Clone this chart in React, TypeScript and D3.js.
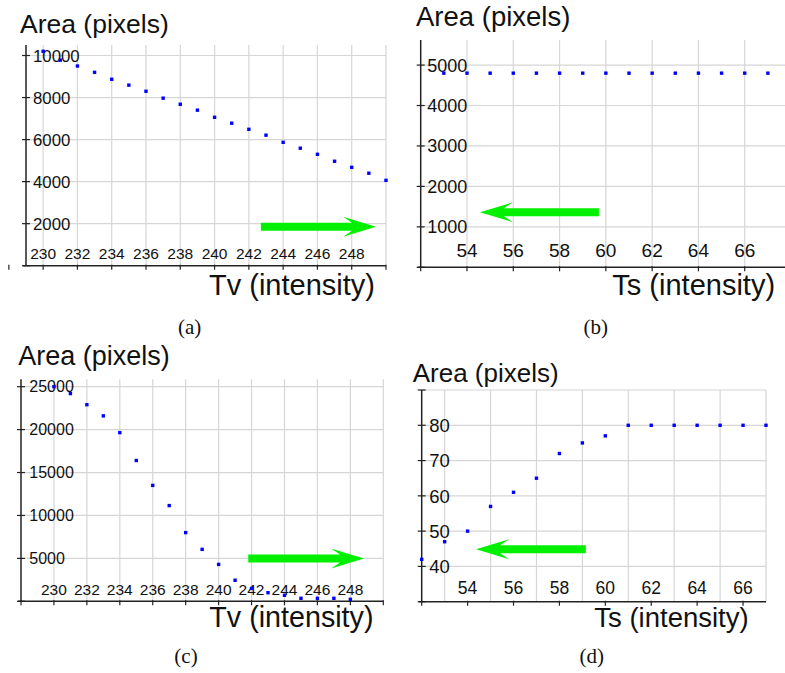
import * as d3 from "d3";
import { useEffect, useRef } from "react";

// Tv sweeps (panels a, c) and Ts sweeps (panels b, d)
const tvValues = d3.range(230, 251);
const areaA = [10200, 9780, 9500, 9200, 8870, 8590, 8300, 7970, 7680, 7400, 7060, 6780, 6490, 6210, 5870, 5590, 5300, 4970, 4680, 4400, 4060];

const tsValuesB = d3.range(53, 68);
const areaB = [4800, 4800, 4800, 4800, 4800, 4800, 4800, 4800, 4800, 4800, 4800, 4800, 4800, 4800, 4800];

const tvValuesC = d3.range(230, 249);
const areaC = [25000, 24200, 22900, 21600, 19650, 16400, 13500, 11150, 8000, 6050, 4300, 2450, 1500, 1000, 700, 350, 350, 350, 230];

const tsValuesD = d3.range(52, 68);
const areaD = [42, 47, 50, 57, 61, 65, 72, 75, 77, 80, 80, 80, 80, 80, 80, 80];

// tick label lists
const tvLabels = d3.range(230, 249, 2);
const tsLabels = d3.range(54, 67, 2);
const yLabelsA = [2000, 4000, 6000, 8000, 10000];
const yLabelsB = [1000, 2000, 3000, 4000, 5000];
const yLabelsC = [5000, 10000, 15000, 20000, 25000];
const yLabelsD = [40, 50, 60, 70, 80];

// arrow annotations, data units: [x tail, x tip, y]
const arrowA = [242.7, 249.42, 1857];
const arrowB = [59.7, 54.56, 1361];
const arrowC = [241.8, 248.83, 5000];
const arrowD = [59.15, 54.37, 44.84];

const panels = [
  {
    xs: tvValues, ys: areaA, xDom: [229, 250], xRange: [26, 386], yDom: [0, 10500], yRange: [265.7, 45],
    xTicks: d3.range(228, 251, 2), xGrid: d3.range(230, 251, 2), xLabels: tvLabels,
    yTicks: [0, ...yLabelsA], yGrid: yLabelsA, yLabels: yLabelsA,
    xFont: 15.5, yFont: 16.8, yLabDx: 7, xLabDy: 6.5,
    title: { x: 20, y: 33, size: 26.5 }, xTitle: { text: "Tv (intensity)", x: 209, y: 295, size: 29 },
    caption: { text: "(a)", x: 189.7, y: 334 }, arrow: arrowA,
  },
  {
    xs: tsValuesB, ys: areaB, xDom: [52, 67.74], xRange: [420.7, 785], yDom: [0, 5620], yRange: [267.3, 40],
    xTicks: d3.range(52, 68, 2), xGrid: d3.range(54, 67, 2), xLabels: tsLabels,
    yTicks: [0, ...yLabelsB], yGrid: yLabelsB, yLabels: yLabelsB,
    xFont: 19, yFont: 18, yLabDx: 6.6, xLabDy: 10.5,
    title: { x: 416, y: 26, size: 27.5 }, xTitle: { text: "Ts (intensity)", x: 612.3, y: 295, size: 29 },
    caption: { text: "(b)", x: 595.8, y: 334 }, arrow: arrowB,
  },
  {
    xs: tvValuesC, ys: areaC, xDom: [228, 250], xRange: [21, 383.3], yDom: [0, 25860], yRange: [601.3, 379.3],
    xTicks: d3.range(228, 251, 2), xGrid: d3.range(230, 251, 2), xLabels: tvLabels,
    yTicks: [0, ...yLabelsC], yGrid: yLabelsC, yLabels: yLabelsC,
    xFont: 15.5, yFont: 16, yLabDx: 8.3, xLabDy: 6.5,
    title: { x: 18.3, y: 365, size: 27 }, xTitle: { text: "Tv (intensity)", x: 209.3, y: 627.3, size: 28.7 },
    caption: { text: "(c)", x: 186, y: 663 }, arrow: arrowC,
  },
  {
    xs: tsValuesD, ys: areaD, xDom: [52, 67], xRange: [421.7, 766], yDom: [30, 90], yRange: [601.7, 390],
    xTicks: d3.range(52, 67, 2), xGrid: d3.range(53, 68, 2), xLabels: tsLabels,
    yTicks: [30, ...yLabelsD, 90], yGrid: [...yLabelsD, 90], yLabels: yLabelsD,
    xFont: 17.5, yFont: 18.5, yLabDx: 7.6, xLabDy: 7.5,
    title: { x: 412.7, y: 381.7, size: 26 }, xTitle: { text: "Ts (intensity)", x: 594.3, y: 627, size: 27.5 },
    caption: { text: "(d)", x: 591.7, y: 663 }, arrow: arrowD,
  },
];

const draw = (el) => {
  const svg = d3.select(el);
  svg.selectAll("*").remove();
  const font = "Liberation Sans, Arial, sans-serif";

  panels.forEach((p) => {
    const g = svg.append("g");
    const x = d3.scaleLinear().domain(p.xDom).range(p.xRange);
    const y = d3.scaleLinear().domain(p.yDom).range(p.yRange);
    const x0 = p.xRange[0], x1 = p.xRange[1];
    const y0 = p.yRange[0], y1 = p.yRange[1];

    // grid
    g.selectAll(".vg").data(p.xGrid).join("line")
      .attr("x1", d => x(d)).attr("x2", d => x(d)).attr("y1", y1).attr("y2", y0)
      .attr("stroke", "#d6d6d6").attr("stroke-width", 1.2);
    g.selectAll(".hg").data(p.yGrid).join("line")
      .attr("x1", x0).attr("x2", x1).attr("y1", d => y(d)).attr("y2", d => y(d))
      .attr("stroke", "#d6d6d6").attr("stroke-width", 1.2);

    // axes
    g.append("line").attr("x1", x0).attr("x2", x0).attr("y1", y1).attr("y2", y0)
      .attr("stroke", "#222").attr("stroke-width", 1.5);
    g.append("line").attr("x1", x0 - 3).attr("x2", x1).attr("y1", y0).attr("y2", y0)
      .attr("stroke", "#222").attr("stroke-width", 1.5);
    g.selectAll(".yt").data(p.yTicks).join("line")
      .attr("x1", x0 - 4).attr("x2", x0 + 4).attr("y1", d => y(d)).attr("y2", d => y(d))
      .attr("stroke", "#222").attr("stroke-width", 1.2);
    g.selectAll(".xt").data(p.xTicks).join("line")
      .attr("x1", d => x(d)).attr("x2", d => x(d)).attr("y1", y0 - 1).attr("y2", y0 + 4)
      .attr("stroke", "#222").attr("stroke-width", 1.2);

    // tick labels
    g.selectAll(".yl").data(p.yLabels).join("text")
      .attr("x", x0 + p.yLabDx).attr("y", d => y(d)).attr("dy", "0.36em")
      .attr("font-family", font).attr("font-size", p.yFont).attr("fill", "#111")
      .text(d => d);
    g.selectAll(".xl").data(p.xLabels).join("text")
      .attr("x", d => x(d)).attr("y", y0 - p.xLabDy).attr("text-anchor", "middle")
      .attr("font-family", font).attr("font-size", p.xFont).attr("fill", "#111")
      .text(d => d);

    // arrow
    const [ax0, ax1, ay] = p.arrow;
    const tx = x(ax0), hx = x(ax1), cy = y(ay);
    const dir = hx > tx ? 1 : -1;
    const headLen = 33, headHalf = 10, shaftHalf = 4, notch = 9;
    const bx = hx - dir * headLen;
    const pts = [
      [tx, cy - shaftHalf], [bx + dir * notch, cy - shaftHalf], [bx, cy - headHalf], [hx, cy],
      [bx, cy + headHalf], [bx + dir * notch, cy + shaftHalf], [tx, cy + shaftHalf],
    ];
    g.append("polygon").attr("points", pts.map(q => q.join(",")).join(" ")).attr("fill", "#00f000");

    // points
    const pts2 = p.xs.map((v, i) => [v, p.ys[i]]);
    g.selectAll(".pt").data(pts2).join("rect")
      .attr("x", d => x(d[0]) - 1.7).attr("y", d => y(d[1]) - 1.7)
      .attr("width", 3.4).attr("height", 3.4).attr("fill", "#0000ff");

    // titles
    g.append("text").attr("x", p.title.x).attr("y", p.title.y)
      .attr("font-family", font).attr("font-size", p.title.size).attr("fill", "#111")
      .text("Area (pixels)");
    g.append("text").attr("x", p.xTitle.x).attr("y", p.xTitle.y)
      .attr("font-family", font).attr("font-size", p.xTitle.size).attr("fill", "#111")
      .text(p.xTitle.text);
    g.append("text").attr("x", p.caption.x).attr("y", p.caption.y).attr("text-anchor", "middle")
      .attr("font-family", "Liberation Serif, Times New Roman, serif").attr("font-size", 21).attr("fill", "#111")
      .text(p.caption.text);
  });
};

export default function App() {
  const ref = useRef(null);
  useEffect(() => {
    draw(ref.current);
  }, []);
  return (
    <svg ref={ref} width={785} height={673}
      style={{ position: "absolute", left: 0, top: 0, background: "#fff" }} />
  );
}
